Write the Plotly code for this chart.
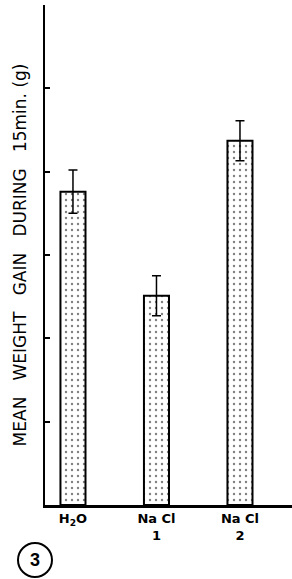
import plotly.graph_objects as go

categories = ["H2O", "NaCl 1", "NaCl 2"]
tick_labels = ["H<sub>2</sub>O", "Na Cl<br>1", "Na Cl<br>2"]
mean_gain = [3.76, 2.51, 4.37]
sem = [0.26, 0.24, 0.24]
y_ticks = [0, 1, 2, 3, 4, 5]

W, H = 292, 579
L, R, T, B = 45, 0, 5, 74
pw, ph = W - L - R, H - T - B

fig = go.Figure()
fig.add_trace(go.Bar(
    x=categories, y=mean_gain, width=0.3,
    marker=dict(color="white",
                line=dict(color="black", width=2),
                pattern=dict(shape=".", fgcolor="black", bgcolor="white", size=6, solidity=0.12)),
    error_y=dict(type="data", array=sem, visible=True, color="black", thickness=1.5, width=4.5),
))

def px_x(p):
    return (p - L) / pw

def px_y(p):
    return (H - B - p) / ph

fig.add_shape(type="circle", xref="paper", yref="paper", xsizemode="pixel", ysizemode="pixel",
              xanchor=px_x(35), yanchor=px_y(560), x0=-17, x1=17, y0=-17, y1=17,
              line=dict(color="black", width=2))
fig.add_annotation(xref="paper", yref="paper", x=px_x(35), y=px_y(560), text="<b>3</b>",
                   showarrow=False, xanchor="center", yanchor="middle",
                   font=dict(size=18, color="black", family="Liberation Sans"))

sp = "\u00a0\u00a0\u00a0"
title_text = f"MEAN{sp}WEIGHT{sp}GAIN{sp}DURING{sp}15min.\u00a0(g)"

fig.update_layout(
    width=W, height=H, margin=dict(l=L, r=R, t=T, b=B, autoexpand=False),
    paper_bgcolor="white", plot_bgcolor="white", showlegend=False,
    font=dict(family="Liberation Sans", color="black"),
    xaxis=dict(type="category", range=[-0.335, 2.623], tickvals=categories, ticktext=tick_labels,
               showline=True, linecolor="black", linewidth=2.5, ticks="", showgrid=False,
               zeroline=False, automargin=False,
               tickfont=dict(size=13, family="DejaVu Sans", weight="bold")),
    yaxis=dict(range=[0, 6], tickvals=y_ticks, showticklabels=False, ticks="inside", ticklen=5,
               tickwidth=1.5, tickcolor="black", showline=True, linecolor="black", linewidth=2,
               showgrid=False, zeroline=False, automargin=False,
               title=dict(text=title_text, standoff=12,
                          font=dict(size=17, family="DejaVu Sans"))),
)
fig.write_html("out.html", config={"displayModeBar": False},
               post_script="document.body.style.margin='0';")
